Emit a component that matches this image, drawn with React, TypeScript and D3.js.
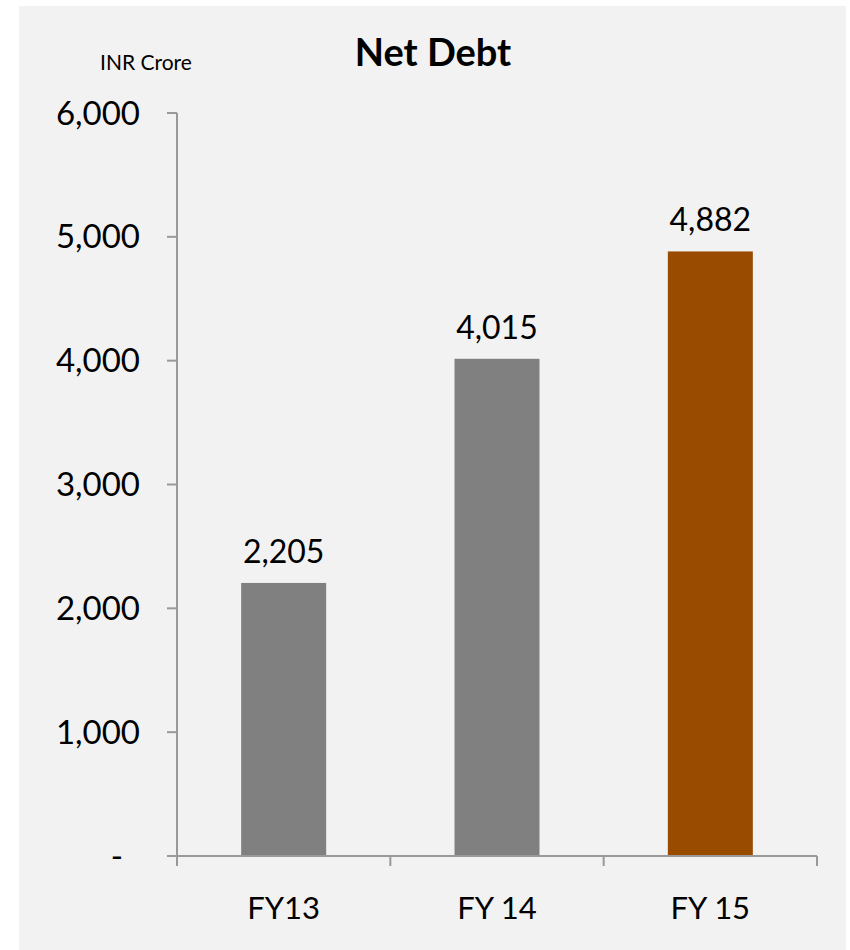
import React from "react";
import * as d3 from "d3";

const categories = ["FY13", "FY 14", "FY 15"];
const values = [2205, 4015, 4882];
const barColors = ["#808080", "#808080", "#994c00"];
const yTicks = [0, 1000, 2000, 3000, 4000, 5000, 6000];

export default function App() {
  const W = 850, H = 950;
  const left = 177, right = 817, top = 113, bottom = 856;
  const x = d3.scaleBand<string>().domain(categories).range([left, right]).paddingInner(0).paddingOuter(0);
  const y = d3.scaleLinear().domain([0, 6000]).range([bottom, top]);
  const bw = 85;
  const fmt = d3.format(",");
  const font = "Lato, 'Open Sans', sans-serif";
  const xTicks = [left, ...categories.map((c) => (x(c) as number) + x.bandwidth())];
  return (
    <svg width={W} height={H} style={{ position: "absolute", left: 0, top: 0 }} fontFamily={font}>
      <rect x={19} y={6} width={827} height={944} fill="#f2f2f2" />
      <text x={433} y={66} textAnchor="middle" fontSize={38} fontWeight="bold" fill="#000">Net Debt</text>
      <text x={146} y={70} textAnchor="middle" fontSize={21} fill="#000">INR Crore</text>
      {categories.map((c, i) => {
        const cx = (x(c) as number) + x.bandwidth() / 2;
        return (
          <g key={c}>
            <rect x={cx - bw / 2} y={y(values[i])} width={bw} height={bottom - y(values[i])} fill={barColors[i]} />
            <text x={cx} y={y(values[i]) - 20} textAnchor="middle" fontSize={32} fill="#000">{fmt(values[i])}</text>
            <text x={cx} y={919} textAnchor="middle" fontSize={31} fill="#000">{c}</text>
          </g>
        );
      })}
      <line x1={left} x2={left} y1={top} y2={bottom + 10} stroke="#999" strokeWidth={2} />
      <line x1={left - 10} x2={right} y1={bottom} y2={bottom} stroke="#999" strokeWidth={2} />
      {xTicks.map((t, i) => (
        <line key={i} x1={t} x2={t} y1={bottom} y2={bottom + 10} stroke="#999" strokeWidth={2} />
      ))}
      {yTicks.map((t) => (
        <g key={t}>
          <line x1={left - 10} x2={left} y1={y(t)} y2={y(t)} stroke="#999" strokeWidth={2} />
          <text x={t === 0 ? 123 : 140} y={y(t)} dy="0.35em" textAnchor="end" fontSize={33} fill="#000">{t === 0 ? "-" : fmt(t)}</text>
        </g>
      ))}
    </svg>
  );
}
